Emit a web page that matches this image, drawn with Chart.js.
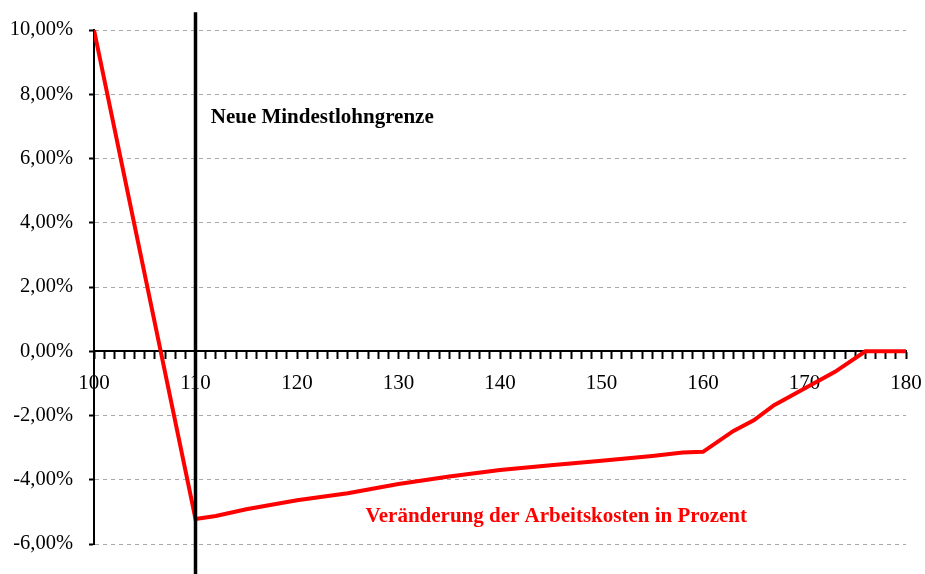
<!DOCTYPE html>
<html>
<head>
<meta charset="utf-8">
<script src="https://cdn.jsdelivr.net/npm/chart.js@4/dist/chart.umd.min.js"></script>
<style>
  html, body { margin: 0; padding: 0; background: #fff; }
  #wrap { width: 925px; height: 574px; }
</style>
</head>
<body>
<div id="wrap"><canvas id="c" width="925" height="574"></canvas></div>
<script>
// Lohnniveau (x) and Veränderung der Arbeitskosten in Prozent (y)
const xValues = [100, 110, 112, 115, 120, 125, 130, 135, 140, 145, 150, 155, 158, 160, 163, 165, 167, 170, 173, 176, 180];
const costChange = [10.0, -5.22, -5.13, -4.92, -4.64, -4.42, -4.13, -3.9, -3.7, -3.55, -3.41, -3.26, -3.15, -3.13, -2.48, -2.15, -1.68, -1.16, -0.64, 0.0, 0.0];
const minWageX = 110;
const minWageLineY = [10.55, -7.2];
const yTicks = [-6, -4, -2, 0, 2, 4, 6, 8, 10];
const xLabelValues = [100, 110, 120, 130, 140, 150, 160, 170, 180];
const labelMinWage = "Neue Mindestlohngrenze";
const labelSeries = "Veränderung der Arbeitskosten in Prozent";

const serif = "'Liberation Serif', 'Times New Roman', serif";

const textPlugin = {
  id: 'texts',
  afterDatasetsDraw(chart) {
    const { ctx, scales } = chart;
    ctx.save();
    ctx.font = "bold 21px " + serif;
    ctx.textBaseline = 'middle';
    ctx.textAlign = 'left';
    ctx.fillStyle = '#000';
    ctx.fillText(labelMinWage, scales.x.getPixelForValue(111.5), scales.y.getPixelForValue(7.28));
    ctx.fillStyle = '#ff0000';
    ctx.fillText(labelSeries, scales.x.getPixelForValue(126.75), scales.y.getPixelForValue(-5.15));
    ctx.restore();
  }
};

new Chart(document.getElementById('c'), {
  type: 'line',
  data: {
    datasets: [
      {
        label: labelSeries,
        data: xValues.map((x, i) => ({ x: x, y: costChange[i] })),
        borderColor: '#ff0000',
        borderWidth: 4,
        pointRadius: 0,
        tension: 0,
        order: 2
      },
      {
        label: labelMinWage,
        data: minWageLineY.map(y => ({ x: minWageX, y: y })),
        borderColor: '#000',
        borderWidth: 3.5,
        pointRadius: 0,
        clip: false,
        order: 1
      }
    ]
  },
  options: {
    responsive: false,
    animation: false,
    devicePixelRatio: 1,
    layout: { padding: { top: 30, bottom: 30, right: 19, left: 0 } },
    plugins: { legend: { display: false }, tooltip: { enabled: false } },
    scales: {
      x: {
        type: 'linear',
        position: { y: 0 },
        min: 100,
        max: 180,
        afterFit: (s) => { s.paddingRight = 0; s.paddingLeft = 0; },
        ticks: {
          stepSize: 1,
          autoSkip: false,
          maxRotation: 0,
          padding: 13,
          color: '#000',
          font: { family: serif, size: 21 },
          callback: (v) => xLabelValues.includes(v) ? String(v) : ''
        },
        grid: {
          drawOnChartArea: false,
          drawTicks: true,
          tickLength: 7,
          tickColor: '#000',
          tickWidth: 2
        },
        border: { display: true, color: '#000', width: 2 }
      },
      y: {
        type: 'linear',
        min: -6,
        max: 10,
        afterBuildTicks: (s) => { s.ticks = yTicks.map(v => ({ value: v })); },
        afterFit: (s) => { s.width = 94; },
        ticks: {
          padding: 16,
          color: '#000',
          font: { family: serif, size: 20.5 },
          callback: (v) => v.toFixed(2).replace('.', ',') + '%'
        },
        grid: {
          color: '#a6a6a6',
          lineWidth: 1,
          drawTicks: true,
          tickLength: 5,
          tickColor: '#000',
          tickWidth: 2,
          tickBorderDash: []
        },
        border: { display: true, color: '#000', width: 2, dash: [4, 4] }
      }
    }
  },
  plugins: [textPlugin]
});
</script>
</body>
</html>
